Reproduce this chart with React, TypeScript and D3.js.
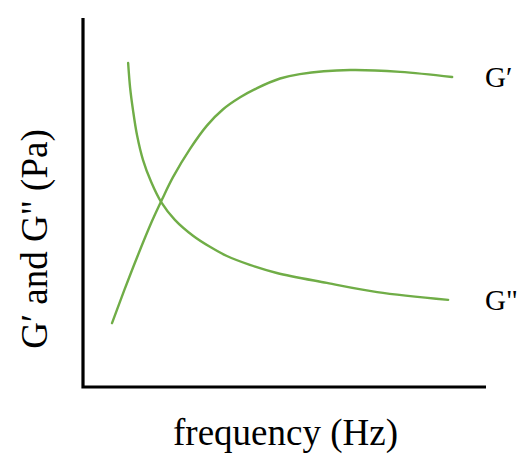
import { useEffect, useRef } from 'react';
import * as d3 from 'd3';

// frequency (arbitrary units, 0-100) and modulus (arbitrary units, 0-100)
const gPrimeFreq = [7.2, 10.2, 13.4, 17.1, 19.6, 22.3, 26.6, 30.8, 34.7, 39.0, 43.2, 48.9, 53.8, 66.3, 78.7, 91.6];
const gPrimeVal = [17.3, 26.1, 35.1, 44.9, 50.8, 56.8, 64.6, 70.9, 75.2, 78.5, 81.0, 83.6, 84.8, 85.9, 85.4, 84.0];

const gDoubleFreq = [11.2, 11.7, 12.4, 13.4, 14.9, 16.9, 19.4, 22.8, 27.3, 31.5, 35.7, 41.4, 48.1, 60.5, 73.0, 90.6];
const gDoubleVal = [87.8, 81.0, 75.1, 68.3, 61.5, 55.6, 50.1, 45.3, 41.0, 38.0, 35.5, 33.1, 30.9, 28.2, 25.7, 23.6];

const seriesLabels = ['G\u2032', 'G"'];

const width = 528;
const height = 471;

export default function App() {
  const svgRef = useRef<SVGSVGElement>(null);

  useEffect(() => {
    if (!svgRef.current) return;
    const svg = d3.select(svgRef.current);
    svg.selectAll('*').remove();

    const x = d3.scaleLinear().domain([0, 100]).range([83, 486]);
    const y = d3.scaleLinear().domain([0, 100]).range([387, 18]);

    const green = '#70ad47';
    const font = '"Liberation Serif", "Times New Roman", serif';

    // axes
    svg.append('path')
      .attr('d', `M${x(0)},${y(100)}V${y(0)}H${x(100)}`)
      .attr('fill', 'none')
      .attr('stroke', '#000')
      .attr('stroke-width', 3.2);

    const line = d3.line<[number, number]>()
      .x(d => x(d[0]))
      .y(d => y(d[1]))
      .curve(d3.curveCatmullRom.alpha(0.5));

    const gPrime = gPrimeFreq.map((f, i) => [f, gPrimeVal[i]] as [number, number]);
    const gDouble = gDoubleFreq.map((f, i) => [f, gDoubleVal[i]] as [number, number]);

    [gPrime, gDouble].forEach(pts => {
      svg.append('path')
        .attr('d', line(pts) || '')
        .attr('fill', 'none')
        .attr('stroke', green)
        .attr('stroke-width', 2.4)
        .attr('stroke-linecap', 'round');
    });

    // series labels at the right end
    const ends = [gPrime[gPrime.length - 1], gDouble[gDouble.length - 1]];
    ends.forEach((pt, i) => {
      svg.append('text')
        .attr('x', 485)
        .attr('y', y(pt[1]) + 10)
        .attr('font-family', font)
        .attr('font-size', 29)
        .attr('fill', '#000')
        .text(seriesLabels[i]);
    });

    // axis titles
    svg.append('text')
      .attr('x', (x(0) + x(100)) / 2 + 1)
      .attr('y', 445)
      .attr('text-anchor', 'middle')
      .attr('font-family', font)
      .attr('font-size', 37)
      .attr('fill', '#000')
      .text('frequency (Hz)');

    svg.append('text')
      .attr('transform', `translate(47, 239) rotate(-90)`)
      .attr('text-anchor', 'middle')
      .attr('font-family', font)
      .attr('font-size', 37)
      .attr('fill', '#000')
      .text('G\u2032 and G" (Pa)');
  }, []);

  return (
    <svg
      ref={svgRef}
      width={width}
      height={height}
      style={{ position: 'absolute', left: 0, top: 0, background: '#fff' }}
    />
  );
}
